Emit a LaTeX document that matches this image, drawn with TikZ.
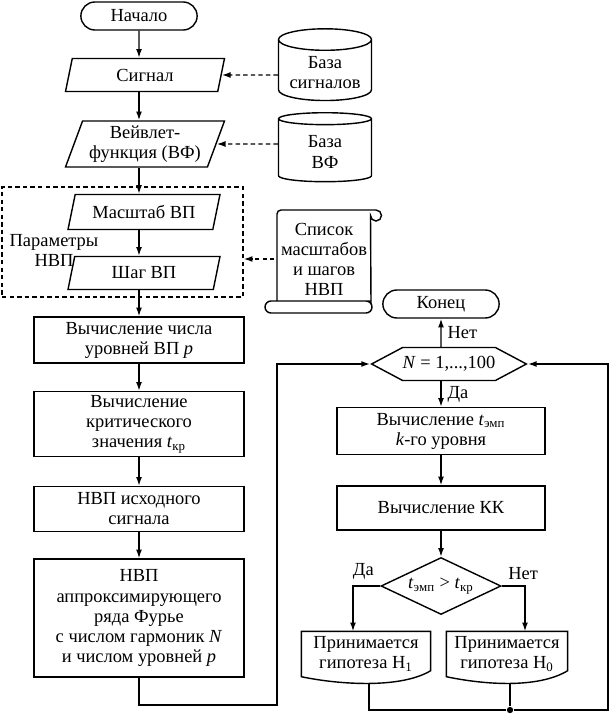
\documentclass[tikz,border=0pt]{standalone}
\usepackage{fontspec}
\setmainfont{Liberation Serif}
\usetikzlibrary{shapes.geometric,shapes.symbols,shapes.misc,arrows.meta}

\tikzset{
  every node/.style={font=\fontsize{10.5}{11.4}\selectfont, align=center},
  proc/.style={draw, rectangle, minimum width=4.2cm, inner sep=2pt},
  io/.style={draw, trapezium, trapezium left angle=67, trapezium right angle=113,
    trapezium stretches body=true, minimum width=3.18cm, inner sep=1pt},
  term/.style={draw, rounded rectangle, minimum width=2.56cm, minimum height=0.56cm},
  base/.style={draw, cylinder, shape border rotate=90, aspect=0.26,
    minimum width=1.86cm, minimum height=1.38cm},
  doc/.style={rectangle, minimum height=0.88cm, inner sep=1pt},
  loopsign/.style={draw, signal, signal to=west and east, signal pointer angle=56,
    minimum width=2.9cm, minimum height=0.66cm, inner xsep=0pt},
  cond/.style={draw, diamond, aspect=2.1, minimum width=2.4cm, minimum height=1.14cm, inner sep=0pt},
  flow/.style={-{Latex[length=5pt,width=3.4pt]}},
  feed/.style={flow, dash pattern=on 2.5pt off 1.8pt},
  dot/.style={circle, fill, inner sep=0pt, minimum size=3.6pt},
}

\begin{document}
\begin{tikzpicture}[x=0.02cm, y=-0.02cm, line width=0.8pt]
\useasboundingbox (0,0) rectangle (610,716);
% left column
\node[term] (start) at (139,16) {Начало};
\node[io, minimum height=0.66cm] (sig) at (145,75) {Сигнал};
\node[io, minimum height=0.92cm] (wav) at (145,144) {Вейвлет-\\функция (ВФ)};
\node[draw, dash pattern=on 2.5pt off 1.8pt, minimum width=4.82cm, minimum height=2.2cm] (params) at (122.5,242) {};
\node[io, minimum width=3.04cm, minimum height=0.7cm] (scl) at (144,212) {Масштаб ВП};
\node[io, minimum width=3.04cm, minimum height=0.66cm] (stp) at (144,273) {Шаг ВП};
\node (parlbl) at (54,250) {Параметры\\НВП};
\node[proc, minimum height=0.92cm] (lev) at (139,340) {Вычисление числа\\уровней ВП \textit{p}};
\node[proc, minimum height=1.3cm] (tkr) at (139,424) {Вычисление\\критического\\значения \textit{t}\textsubscript{кр}};
\node[proc, minimum height=0.9cm] (src) at (139,509) {НВП исходного\\сигнала};
\node[proc, minimum height=2.36cm] (fur) at (139,618) {НВП\\аппроксимирующего\\ряда Фурье\\с числом гармоник \textit{N}\\и числом уровней \textit{p}};
% bases
\node[base] (bsig) at (325,73) {База\\сигналов};
\node[base] (bvf) at (325,152) {База\\ВФ};
\node[minimum width=1.9cm, minimum height=1.8cm] (lst) at (324,259) {Список\\масштабов\\и шагов\\НВП};
\draw (277,301) -- (277,214) arc[start angle=180, end angle=90, radius=0.08cm]
  -- (376,210) arc[start angle=90, end angle=-180, radius=0.11cm] -- (371,304);
\draw (371,301) -- (271,301) arc[start angle=90, end angle=270, radius=0.12cm]
  -- (366,313) arc[start angle=-90, end angle=90, radius=0.12cm];
% right column
\node[term] (end) at (441,304) {Конец};
\node[loopsign] (loop) at (449,364) {\textit{N} = 1,...,100};
\node[proc, minimum width=4.16cm, minimum height=0.94cm] (temp) at (441,431) {Вычисление \textit{t}\textsubscript{эмп}\\\textit{k}-го уровня};
\node[proc, minimum width=4.16cm, minimum height=0.88cm] (kk) at (441,508) {Вычисление КК};
\node[cond] (dec) at (441,586) {\textit{t}\textsubscript{эмп} > \textit{t}\textsubscript{кр}};
\node[doc, minimum width=2.56cm] (h1) at (366,654) {Принимается\\гипотеза H\textsubscript{1}};
\node[doc, minimum width=2.4cm] (h0) at (507,654) {Принимается\\гипотеза H\textsubscript{0}};
\foreach \d in {h1,h0}
  \draw (\d.north west) -- (\d.north east) -- ([yshift=0.12cm]\d.south east)
    .. controls +(-0.6cm,-0.36cm) and +(0.76cm,-0.16cm) .. (\d.south west) -- cycle;
\coordinate (h1b) at ([xshift=0.06cm,yshift=-0.14cm]h1.south);
\coordinate (h0b) at ([xshift=0.06cm,yshift=-0.14cm]h0.south);
\coordinate (rr) at (608,710);
\coordinate (ll) at (277,705);
\node[dot] (jn) at (h0b |- rr) {};
% connectors
\draw[flow] (start) -- (start |- sig.north);
\draw[flow] (sig.south -| start) -- (start |- wav.north);
\draw[flow] (wav.south -| start) -- (start |- scl.north);
\draw[flow] (scl.south -| start) -- (start |- stp.north);
\draw[flow] (stp.south -| lev) -- (lev);
\draw[flow] (lev) -- (tkr);
\draw[flow] (tkr) -- (src);
\draw[flow] (src) -- (fur);
\draw[feed] (bsig.west |- sig) -- (sig);
\draw[feed] (bvf.west |- wav) -- (wav);
\draw[feed] (lst.west) -- (lst.west -| params.east);
\draw[flow] (fur) |- (ll) |- (loop.west);
\draw[flow] (loop.north -| end) -- node[right] {Нет} (end);
\draw[flow] (loop.south -| temp) -- node[right] {Да} (temp);
\draw[flow] (temp) -- (kk);
\draw[flow] (kk) -- (dec);
\draw[flow] (dec.west) -| node[pos=0, above left] {Да} ([xshift=-0.26cm]h1.north);
\draw[flow] (dec.east) -| node[pos=0, above right] {Нет} ([xshift=0.36cm]h0.north);
\draw (h1b) |- (jn);
\draw (h0b) -- (jn);
\draw[flow] (jn) -- (rr) |- (loop.east);
\end{tikzpicture}
\end{document}
